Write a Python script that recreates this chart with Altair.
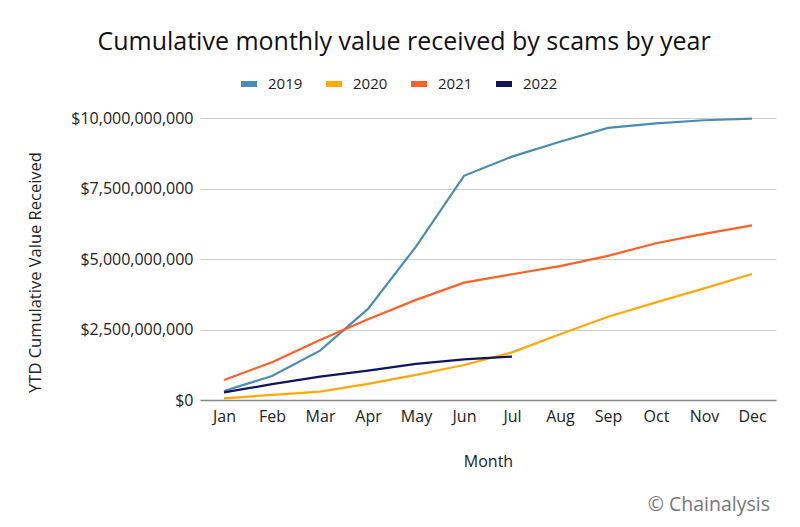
import altair as alt
import pandas as pd

months = ["Jan", "Feb", "Mar", "Apr", "May", "Jun", "Jul", "Aug", "Sep", "Oct", "Nov", "Dec"]
years = ["2019", "2020", "2021", "2022"]
colors = ["#4A8DB1", "#FFA90A", "#FF6128", "#12145E"]

v2019 = [0.32e9, 0.85e9, 1.75e9, 3.23e9, 5.44e9, 7.95e9, 8.63e9, 9.16e9, 9.65e9, 9.81e9, 9.92e9, 9.98e9]
v2020 = [0.06e9, 0.18e9, 0.30e9, 0.57e9, 0.89e9, 1.24e9, 1.69e9, 2.33e9, 2.95e9, 3.46e9, 3.96e9, 4.47e9]
v2021 = [0.71e9, 1.34e9, 2.13e9, 2.86e9, 3.55e9, 4.16e9, 4.46e9, 4.75e9, 5.11e9, 5.56e9, 5.89e9, 6.19e9]
v2022 = [0.27e9, 0.56e9, 0.83e9, 1.04e9, 1.28e9, 1.44e9, 1.54e9]

rows = []
for yr, vals in zip(years, [v2019, v2020, v2021, v2022]):
    for m, v in zip(months, vals):
        rows.append({"Month": m, "Year": yr, "Value": v})
df = pd.DataFrame(rows)

FONT = "Open Sans"

lines = alt.Chart(df).mark_line(strokeWidth=2.2).encode(
    x=alt.X("Month:N", sort=months,
            scale=alt.Scale(type="point", padding=0.5),
            axis=alt.Axis(title="Month", labelAngle=0, ticks=False, grid=False,
                          domainColor="#888888", domainWidth=1.5,
                          labelFontSize=16, labelColor="#222222", labelPadding=8,
                          titleFontSize=16, titleFontWeight="normal", titleColor="#222222",
                          titleY=61, titleBaseline="middle")),
    y=alt.Y("Value:Q", scale=alt.Scale(domain=[0, 10e9]),
            axis=alt.Axis(title="YTD Cumulative Value Received", format="$,.0f",
                          values=[0, 2.5e9, 5e9, 7.5e9, 10e9],
                          ticks=False, domain=False, gridColor="#cccccc",
                          labelFontSize=16, labelColor="#222222", labelPadding=7,
                          titleFontSize=16.5, titleFontWeight="normal", titleColor="#222222",
                          titleX=-165, titleY=154, titleAngle=-90,
                          titleAlign="center", titleBaseline="middle")),
    color=alt.Color("Year:N", scale=alt.Scale(domain=years, range=colors),
                    legend=alt.Legend(title=None, orient="none", direction="horizontal",
                                      legendX=38, legendY=-45,
                                      symbolType="stroke", symbolSize=256,
                                      symbolStrokeWidth=6, labelFontSize=15,
                                      labelColor="#222222", labelOffset=8,
                                      columnPadding=11)),
    detail="Year:N",
)

footer = alt.Chart(pd.DataFrame({"t": ["\u00a9 Chainalysis"]})).mark_text(
    align="right", baseline="middle", fontSize=19.5, color="#777777", font=FONT
).encode(text="t:N", x=alt.value(570), y=alt.value(387))

chart = alt.layer(lines, footer).properties(
    width=576, height=282,
    autosize=alt.AutoSizeParams(type="none"),
    padding={"left": 192, "top": 110, "right": 16, "bottom": 119},
    title=alt.TitleParams("Cumulative monthly value received by scams by year",
                          fontSize=25, fontWeight="normal", color="#111111",
                          anchor="middle", dx=-84, offset=18, font=FONT),
).configure(font=FONT).configure_view(stroke=None)

chart.save("out.html", embed_options={"renderer": "svg", "actions": False})
